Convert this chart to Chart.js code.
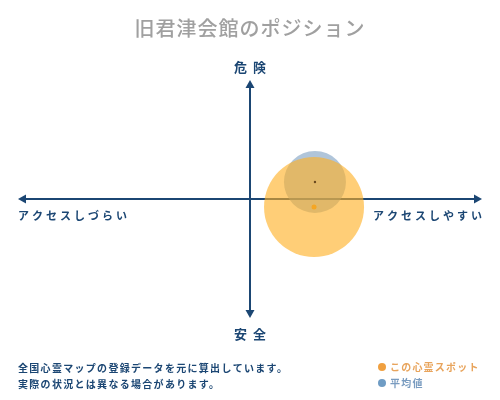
<!DOCTYPE html>
<html>
<head>
<meta charset="utf-8">
<script src="https://cdn.jsdelivr.net/npm/chart.js@4.4.1/dist/chart.umd.min.js"></script>
<style>
html,body{margin:0;padding:0;background:#fff;}
#wrap{width:500px;height:400px;position:relative;}
</style>
</head>
<body>
<div id="wrap"><canvas id="c" width="500" height="400"></canvas></div>
<script>
const titleText = "旧君津会館のポジション";
const axisTop = "危険";
const axisBottom = "安全";
const axisLeft = "アクセスしづらい";
const axisRight = "アクセスしやすい";
const noteLines = ["全国心霊マップの登録データを元に算出しています。", "実際の状況とは異なる場合があります。"];
const seriesNames = ["この心霊スポット", "平均値"];
const spotX = [2.76];
const spotY = [-0.67];
const spotR = [50];
const avgX = [2.8];
const avgY = [1.43];
const avgR = [31];

const NAVY = "#1b4673";
const FONT = "'Noto Sans CJK JP', 'Noto Sans', sans-serif";

const decor = {
  id: 'decor',
  beforeDatasetsDraw(chart) {
    const ctx = chart.ctx;
    const xs = chart.scales.x, ys = chart.scales.y;
    const cx = xs.getPixelForValue(0), cy = ys.getPixelForValue(0);
    const L = xs.getPixelForValue(-10), R = xs.getPixelForValue(10);
    const T = ys.getPixelForValue(10), B = ys.getPixelForValue(-10);
    ctx.save();
    ctx.strokeStyle = NAVY; ctx.fillStyle = NAVY; ctx.lineWidth = 2;
    ctx.beginPath();
    ctx.moveTo(L + 6, cy); ctx.lineTo(R - 6, cy);
    ctx.moveTo(cx, T + 6); ctx.lineTo(cx, B - 6);
    ctx.stroke();
    ctx.beginPath(); ctx.moveTo(R, cy); ctx.lineTo(R - 8, cy - 4.5); ctx.lineTo(R - 8, cy + 4.5); ctx.closePath(); ctx.fill();
    ctx.beginPath(); ctx.moveTo(L, cy); ctx.lineTo(L + 8, cy - 4.5); ctx.lineTo(L + 8, cy + 4.5); ctx.closePath(); ctx.fill();
    ctx.beginPath(); ctx.moveTo(cx, T); ctx.lineTo(cx - 4.5, T + 8); ctx.lineTo(cx + 4.5, T + 8); ctx.closePath(); ctx.fill();
    ctx.beginPath(); ctx.moveTo(cx, B); ctx.lineTo(cx - 4.5, B - 8); ctx.lineTo(cx + 4.5, B - 8); ctx.closePath(); ctx.fill();
    ctx.restore();
  },
  afterDraw(chart) {
    const ctx = chart.ctx;
    const xs = chart.scales.x, ys = chart.scales.y;
    const cx = xs.getPixelForValue(0), cy = ys.getPixelForValue(0);
    const L = xs.getPixelForValue(-10), R = xs.getPixelForValue(10);
    const T = ys.getPixelForValue(10), B = ys.getPixelForValue(-10);
    ctx.save();
    ctx.textBaseline = 'middle';
    ctx.fillStyle = '#a0a0a0';
    ctx.font = "500 20px " + FONT;
    ctx.textAlign = 'center';
    ctx.letterSpacing = '1px';
    ctx.fillText(titleText, 250, 28);
    ctx.fillStyle = NAVY;
    ctx.font = "bold 13px " + FONT;
    ctx.letterSpacing = '6px';
    ctx.textAlign = 'center';
    ctx.fillText(axisTop, cx + 3, T - 13);
    ctx.fillText(axisBottom, cx + 3, B + 16);
    ctx.font = "bold 11px " + FONT;
    ctx.letterSpacing = '3px';
    ctx.textAlign = 'left';
    ctx.fillText(axisLeft, L, cy + 17);
    ctx.textAlign = 'right';
    ctx.fillText(axisRight, R + 3, cy + 17);
    ctx.font = "bold 10px " + FONT;
    ctx.letterSpacing = '1.3px';
    ctx.textAlign = 'left';
    ctx.fillText(noteLines[0], 18, 368);
    ctx.fillText(noteLines[1], 18, 384);
    ctx.beginPath(); ctx.arc(382, 367, 4, 0, Math.PI * 2); ctx.fillStyle = '#f0a040'; ctx.fill();
    ctx.beginPath(); ctx.arc(382, 383, 4, 0, Math.PI * 2); ctx.fillStyle = '#6f9cc4'; ctx.fill();
    ctx.font = "bold 10px " + FONT;
    ctx.letterSpacing = '1.2px';
    ctx.fillStyle = '#e8a45c';
    ctx.fillText(seriesNames[0], 390, 367);
    ctx.fillStyle = '#7a9cc0';
    ctx.fillText(seriesNames[1], 390, 383);
    ctx.restore();
  }
};

new Chart(document.getElementById('c'), {
  type: 'bubble',
  data: {
    datasets: [
      {
        label: seriesNames[0] + '中心',
        data: spotX.map((x, i) => ({x: x, y: spotY[i], r: 2.5})),
        backgroundColor: '#f5a623', borderWidth: 0
      },
      {
        label: seriesNames[1] + '中心',
        data: avgX.map((x, i) => ({x: x, y: avgY[i], r: 1.2})),
        backgroundColor: '#6b4a20', borderWidth: 0
      },
      {
        label: seriesNames[0],
        data: spotX.map((x, i) => ({x: x, y: spotY[i], r: spotR[i]})),
        backgroundColor: 'rgba(255,176,36,0.62)', borderWidth: 0
      },
      {
        label: seriesNames[1],
        data: avgX.map((x, i) => ({x: x, y: avgY[i], r: avgR[i]})),
        backgroundColor: 'rgba(112,150,188,0.55)', borderWidth: 0
      }
    ]
  },
  options: {
    responsive: false,
    animation: false,
    events: [],
    layout: { autoPadding: false, padding: { left: 18, right: 18, top: 80, bottom: 82 } },
    scales: {
      x: { display: false, min: -10, max: 10 },
      y: { display: false, min: -10, max: 10 }
    },
    plugins: { legend: { display: false }, tooltip: { enabled: false }, title: { display: false } }
  },
  plugins: [decor]
});
</script>
</body>
</html>
